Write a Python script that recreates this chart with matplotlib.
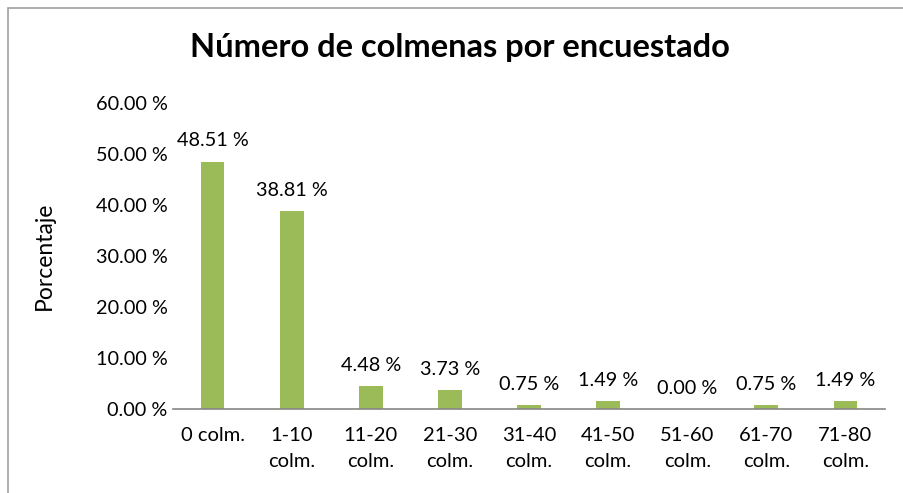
import matplotlib
matplotlib.use("Agg")
import matplotlib.pyplot as plt
from matplotlib.patches import Rectangle

categories = ["0 colm.", "1-10\ncolm.", "11-20\ncolm.", "21-30\ncolm.", "31-40\ncolm.",
              "41-50\ncolm.", "51-60\ncolm.", "61-70\ncolm.", "71-80\ncolm."]
values = [48.51, 38.81, 4.48, 3.73, 0.75, 1.49, 0.00, 0.75, 1.49]
yticks = [0, 10, 20, 30, 40, 50, 60]

plt.rcParams['font.family'] = ['Lato', 'DejaVu Sans']

fig = plt.figure(figsize=(9.04, 4.93), dpi=100)
ax = fig.add_axes([173/904, 84/493, 712/904, 306/493])

x = list(range(len(values)))
ax.bar(x, values, width=0.3, color="#9BBB59")
for xi, v in zip(x, values):
    ax.text(xi, v + 2.4, f"{v:.2f} %", ha="center", va="bottom", fontsize=14.3, color="#000000")

ax.set_xlim(-0.5, len(values) - 0.5)
ax.set_ylim(0, 60)
ax.set_yticks(yticks)
ax.set_yticklabels([f"{t:.2f} %" for t in yticks], fontsize=14.3)
ax.set_xticks(x)
ax.set_xticklabels(categories, fontsize=14.5, linespacing=1.65)
ax.tick_params(axis="x", length=0, pad=13)
ax.tick_params(axis="y", length=0, pad=4)
for s in ["top", "right", "left"]:
    ax.spines[s].set_visible(False)
ax.spines["bottom"].set_color("#868686")
ax.spines["bottom"].set_linewidth(1.2)

ax.set_ylabel("Porcentaje", fontsize=16.5)
ax.yaxis.set_label_coords(-0.166, 0.5)

fig.text(460/904, 1 - 48/493, "Número de colmenas por encuestado", ha="center", va="center",
         fontsize=23.5, fontweight="bold")

fig.patches.append(Rectangle((8/904, -0.1), 1.1, 1 - 8/493 + 0.1, transform=fig.transFigure,
                             fill=False, edgecolor="#A0A0A0", linewidth=1.2))

fig.savefig("out.png", dpi=100)
